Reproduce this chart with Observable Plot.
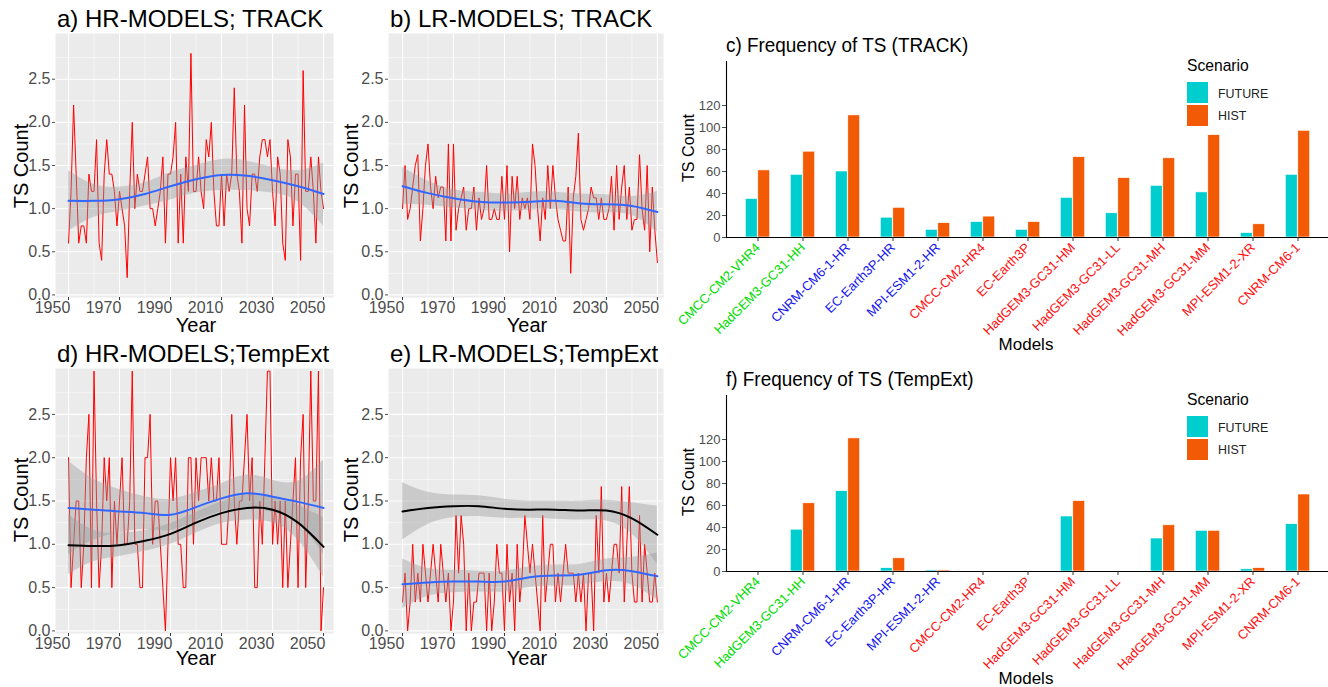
<!DOCTYPE html>
<html><head><meta charset="utf-8">
<script src="https://cdn.jsdelivr.net/npm/d3@7"></script>
<script src="https://cdn.jsdelivr.net/npm/@observablehq/plot@0.6"></script>
<style>
body{margin:0;background:#fff;font-family:"Liberation Sans",Arial,sans-serif;}
#wrap{position:relative;width:1328px;height:687px;overflow:hidden;background:#fff;}
.p{position:absolute;}
.t{position:absolute;white-space:nowrap;color:#000;line-height:1;transform-origin:0 0;}
</style></head><body><div id="wrap"></div>
<script>
// ---------- time series (yearly, 1950..2050) ----------
const startYear = 1950;
const hrTrack = [0.6,1.2,2.2,1.4,0.6,0.8,0.8,0.6,1.4,1.2,1.2,1.8,0.6,0.4,1.4,1.8,1.4,1.4,1.2,0.8,1.2,1.0,0.8,0.2,1.2,2.0,1.0,1.4,1.2,1.2,1.4,1.6,1.0,1.0,0.8,1.0,1.2,1.6,0.6,1.4,1.4,1.6,2.0,0.6,1.4,0.6,1.6,1.2,2.8,1.2,1.2,1.6,1.2,1.0,1.8,1.6,2.0,1.2,0.8,0.8,1.4,0.8,1.4,1.2,1.4,2.4,1.4,1.2,0.6,2.2,1.0,0.8,1.4,1.4,1.2,1.6,1.8,1.8,1.6,1.8,1.2,0.8,1.6,1.4,0.6,0.4,1.8,1.6,0.8,1.4,1.4,0.4,2.6,1.2,1.2,1.6,1.2,0.6,1.6,1.2,1.0];
const lrTrack = [1.0,1.5,0.875,1.0,1.25,1.5,1.625,0.625,1.0,1.5,1.75,1.25,1.0,1.375,1.125,1.25,1.25,0.625,1.75,0.625,1.75,0.75,1.0,1.125,1.25,0.75,1.0,1.0,1.25,0.75,1.125,0.875,1.0,1.5,0.875,0.875,1.0,0.875,0.875,1.375,0.875,1.5,0.5,1.375,1.0,1.375,0.875,1.125,1.0,1.125,0.875,1.75,1.5,1.0,0.625,1.125,0.875,1.5,1.0,1.5,1.125,0.875,0.75,0.625,0.625,1.25,0.25,1.125,1.375,1.875,0.875,0.75,0.875,1.0,1.25,1.125,1.125,0.875,1.125,0.875,0.875,1.0,1.375,0.75,1.5,0.875,1.25,1.5,0.875,1.25,0.75,0.875,0.875,1.625,1.0,0.75,1.5,0.5,1.25,0.75,0.375];
const hrTempExt = [2.0,0.5,1.0,1.5,1.5,0.5,1.0,2.0,2.5,0.5,3.0,1.5,0.5,1.0,2.0,1.5,2.0,0.5,1.5,1.0,1.5,2.0,1.0,1.0,1.5,3.0,1.0,1.0,0.5,0.5,2.0,2.0,2.5,1.0,1.5,1.5,1.0,0.5,0.0,1.0,2.0,1.5,2.0,1.0,1.0,0.5,0.5,2.0,2.0,1.0,2.0,1.5,2.0,2.0,2.0,1.5,2.0,1.5,1.5,2.0,1.0,1.0,1.0,1.5,2.5,1.5,1.0,1.5,1.5,2.0,2.5,1.5,2.0,0.5,0.5,1.5,1.0,2.0,3.0,3.0,1.0,1.5,1.0,1.5,0.5,1.5,0.5,1.0,1.5,2.0,0.5,2.0,2.5,0.5,1.5,3.0,1.5,1.5,3.0,0.0,0.5];
const lrTempExt = [0.333,0.667,0.0,0.333,1.0,0.333,0.667,0.333,1.0,0.667,0.333,0.667,1.0,0.667,0.333,1.0,0.667,0.333,0.667,0.0,0.333,1.333,0.667,1.333,1.0,0.0,0.667,0.0,0.333,0.333,0.667,0.667,0.667,0.0,0.667,0.0,0.333,1.0,0.667,0.667,0.0,1.0,0.333,0.667,0.0,1.0,0.333,0.667,1.333,1.0,0.667,1.0,0.667,0.333,0.0,1.333,0.333,0.667,1.0,1.0,0.333,0.667,0.333,0.667,1.0,0.667,0.667,0.667,0.333,0.667,0.333,0.667,0.0,0.667,0.667,0.0,1.333,0.667,1.667,0.333,0.667,0.333,0.667,1.0,1.0,0.667,1.667,0.333,1.0,1.667,0.667,0.333,0.333,1.333,0.333,1.0,0.667,0.333,0.333,0.667,0.333];

// ---------- smoothed fits (read at these years) ----------
const smoothYears = [1950,1960,1970,1980,1990,2000,2010,2020,2030,2040,2050];
const aFit  = [1.09,1.09,1.11,1.17,1.26,1.34,1.39,1.38,1.33,1.26,1.17];
const aLo   = [0.74,0.90,0.97,1.03,1.10,1.18,1.21,1.21,1.18,1.08,0.80];
const aHi   = [1.44,1.28,1.25,1.30,1.42,1.50,1.57,1.55,1.48,1.44,1.53];
const bFit  = [1.26,1.18,1.12,1.08,1.07,1.08,1.09,1.06,1.05,1.03,0.96];
const bLo   = [1.05,1.04,1.01,0.98,0.97,0.98,0.99,0.96,0.95,0.92,0.73];
const bHi   = [1.48,1.32,1.22,1.19,1.17,1.19,1.19,1.17,1.16,1.14,1.20];
const dBlueFit  = [1.42,1.40,1.38,1.36,1.34,1.43,1.53,1.59,1.55,1.49,1.42];
const dBlueLo   = [0.88,1.05,1.13,1.17,1.16,1.27,1.38,1.42,1.37,1.25,0.88];
const dBlueHi   = [1.96,1.75,1.63,1.55,1.52,1.60,1.70,1.80,1.74,1.73,1.97];
const dBlackFit = [0.99,0.98,0.99,1.04,1.12,1.25,1.36,1.42,1.40,1.25,0.97];
const dBlackLo  = [0.65,0.80,0.86,0.92,1.00,1.13,1.24,1.28,1.25,1.05,0.62];
const dBlackHi  = [1.34,1.16,1.13,1.16,1.24,1.37,1.49,1.57,1.55,1.45,1.31];
const eBlueFit  = [0.54,0.56,0.57,0.57,0.57,0.62,0.64,0.65,0.70,0.69,0.63];
const eBlueLo   = [0.26,0.40,0.44,0.45,0.45,0.50,0.52,0.53,0.57,0.53,0.36];
const eBlueHi   = [0.83,0.72,0.70,0.69,0.69,0.74,0.76,0.77,0.83,0.85,0.90];
const eBlackFit = [1.38,1.42,1.44,1.44,1.41,1.40,1.40,1.39,1.39,1.30,1.11];
const eBlackLo  = [1.05,1.23,1.31,1.32,1.30,1.30,1.29,1.28,1.27,1.12,0.77];
const eBlackHi  = [1.71,1.60,1.57,1.56,1.52,1.50,1.50,1.50,1.51,1.48,1.44];

const yMajor = [0,0.5,1,1.5,2,2.5];
const yMinor = [0.25,0.75,1.25,1.75,2.25,2.75];
const xMajor = [1950,1970,1990,2010,2030,2050];
const xMinor = [1960,1980,2000,2020,2040];

// ---------- bar charts ----------
const models = ["CMCC-CM2-VHR4","HadGEM3-GC31-HH","CNRM-CM6-1-HR","EC-Earth3P-HR","MPI-ESM1-2-HR","CMCC-CM2-HR4","EC-Earth3P","HadGEM3-GC31-HM","HadGEM3-GC31-LL","HadGEM3-GC31-MH","HadGEM3-GC31-MM","MPI-ESM1-2-XR","CNRM-CM6-1"];
const modelGroup = ["VHR","VHR","HR","HR","HR","LR","LR","LR","LR","LR","LR","LR","LR"];
const trackFuture = [35,57,60,18,7,14,7,36,22,47,41,4,57];
const trackHist   = [61,78,111,27,13,19,14,73,54,72,93,12,97];
const tempFuture  = [0,38,73,3,1,0,0,50,0,30,37,2,43];
const tempHist    = [0,62,121,12,1,0,0,64,0,42,37,3,70];
const barTicks = [0,20,40,60,80,100,120];
const scenarios = ["FUTURE","HIST"];

const groupColor = {VHR:"#00DD00", HR:"#1515EE", LR:"#FF1010"};
const scenColor = {FUTURE:"#00CDCD", HIST:"#F25A05"};
const FONT = "'Liberation Sans', Arial, sans-serif";
const wrap = document.getElementById("wrap");

function place(node, left, top) {
  node.classList.add("p");
  node.style.left = left + "px"; node.style.top = top + "px";
  wrap.appendChild(node);
}
function label(text, x, baseline, size, opt = {}) {
  const d = document.createElement("div");
  d.className = "t";
  d.textContent = text;
  d.style.fontSize = size + "px";
  d.style.color = opt.color || "#000";
  const sx = opt.scaleX || 1;
  if (opt.rotate) {
    d.style.left = x + "px"; d.style.top = baseline + "px";
    d.style.transformOrigin = "50% 50%";
    d.style.transform = `translate(-50%,-50%) rotate(-90deg) scaleX(${sx})`;
  } else {
    d.style.left = x + "px";
    d.style.top = (baseline - 0.8465 * size) + "px";
    if (opt.anchor === "middle") d.style.transform = `translateX(-50%)`;
    else if (sx !== 1) d.style.transform = `scaleX(${sx})`;
  }
  wrap.appendChild(d);
}

function linePanel(p) {
  const data = p.series.map((v, i) => ({year: startYear + i, v}));
  const marks = [
    Plot.frame({fill: "#EBEBEB", stroke: null}),
    Plot.gridY(yMinor, {stroke: "#fff", strokeOpacity: 1, strokeWidth: 0.55}),
    Plot.gridX(xMinor, {stroke: "#fff", strokeOpacity: 1, strokeWidth: 0.55}),
    Plot.gridY(yMajor, {stroke: "#fff", strokeOpacity: 1, strokeWidth: 1.1}),
    Plot.gridX(xMajor, {stroke: "#fff", strokeOpacity: 1, strokeWidth: 1.1}),
    Plot.line(data, {x: "year", y: "v", stroke: "#FF0000", strokeWidth: 1, clip: true})
  ];
  const sm = p.smooths.map(s => ({color: s.color, rows: smoothYears.map((y, i) => ({year: y, fit: s.fit[i], lo: s.lo[i], hi: s.hi[i]}))}));
  for (const s of sm) marks.push(Plot.areaY(s.rows, {x: "year", y1: "lo", y2: "hi", fill: "#999999", fillOpacity: 0.4, curve: "natural"}));
  for (const s of sm) marks.push(Plot.line(s.rows, {x: "year", y: "fit", stroke: s.color, strokeWidth: 2, curve: "natural"}));
  marks.push(
    Plot.axisY(yMajor, {tickFormat: d => d.toFixed(1), fontSize: 16, color: "#4d4d4d", tickSize: 3, tickPadding: 2, label: null}),
    Plot.axisX(xMajor, {tickFormat: () => "", tickSize: 3, color: "#333", label: null}),
    Plot.text(xMajor, {x: d => d, text: d => String(d), frameAnchor: "bottom", lineAnchor: "bottom", dy: 15, dx: -16, fontSize: 16, fill: "#4d4d4d"})
  );
  const svg = Plot.plot({
    width: p.w, height: p.h,
    marginLeft: p.mL, marginRight: p.mR, marginTop: p.mT, marginBottom: p.mB,
    x: {domain: p.domain},
    y: {domain: [-0.03, 3.03]},
    style: {fontFamily: FONT, background: "transparent", overflow: "visible"},
    marks
  });
  place(svg, p.left, p.top);
}

linePanel({left: 0, top: 0, w: 335, h: 340, mL: 55, mR: 2, mT: 33, mB: 43, domain: [1944.9, 2053.9],
  series: hrTrack, smooths: [{fit: aFit, lo: aLo, hi: aHi, color: "#3366FF"}]});
linePanel({left: 335, top: 0, w: 335, h: 340, mL: 53, mR: 7, mT: 33, mB: 43, domain: [1944.5, 2052.4],
  series: lrTrack, smooths: [{fit: bFit, lo: bLo, hi: bHi, color: "#3366FF"}]});
linePanel({left: 0, top: 340, w: 335, h: 347, mL: 55, mR: 2, mT: 28, mB: 54, domain: [1944.9, 2053.9],
  series: hrTempExt, smooths: [{fit: dBlackFit, lo: dBlackLo, hi: dBlackHi, color: "#000000"}, {fit: dBlueFit, lo: dBlueLo, hi: dBlueHi, color: "#3366FF"}]});
linePanel({left: 335, top: 340, w: 335, h: 347, mL: 53, mR: 7, mT: 28, mB: 54, domain: [1944.5, 2052.4],
  series: lrTempExt, smooths: [{fit: eBlackFit, lo: eBlackLo, hi: eBlackHi, color: "#000000"}, {fit: eBlueFit, lo: eBlueLo, hi: eBlueHi, color: "#3366FF"}]});

// texts of line panels
label("a) HR-MODELS; TRACK", 57, 27, 24);
label("b) LR-MODELS; TRACK", 390, 27, 24);
label("d) HR-MODELS;TempExt", 57, 362, 24);
label("e) LR-MODELS;TempExt", 390, 362, 24);
for (const [x, y] of [[21,166],[351,166],[21,500],[351,500]]) label("TS Count", x, y, 20, {rotate: true});
for (const [x, y] of [[196,332],[527,332],[196,665],[527,665]]) label("Year", x, y, 20, {anchor: "middle"});

function barPanel(p) {
  const rows = models.map((m, i) => ({model: m, group: modelGroup[i], future: p.future[i], hist: p.hist[i]}));
  const lab = Object.fromEntries(rows.map(r => [r.model, groupColor[r.group]]));
  const svg = Plot.plot({
    width: 658, height: p.h,
    marginLeft: 56, marginRight: 0, marginTop: p.mT, marginBottom: p.mB,
    x: {domain: models, paddingInner: 0, paddingOuter: 0.1},
    y: {domain: [0, 160]},
    color: {type: "identity"},
    style: {fontFamily: FONT, background: "transparent", overflow: "visible"},
    marks: [
      Plot.barY(rows, {x: "model", y: "future", fill: scenColor.FUTURE, stroke: "#fff", strokeWidth: 0.6, insetLeft: 10.3, insetRight: 22.8}),
      Plot.barY(rows, {x: "model", y: "hist", fill: scenColor.HIST, stroke: "#fff", strokeWidth: 0.6, insetLeft: 22.8, insetRight: 10.3}),
      Plot.ruleY([0], {stroke: "#000", strokeWidth: 1.1}),
      Plot.frame({anchor: "left", stroke: "#000", strokeWidth: 1.1}),
      Plot.axisY(barTicks, {fontSize: 13, tickSize: 4, tickPadding: 2, color: "#4d4d4d", label: null}),
      Plot.axisX(models, {tickRotate: -45, fontSize: 13, tickSize: 4, tickPadding: 4, fill: d => lab[d], stroke: "#333", label: null})
    ]
  });
  place(svg, 670, p.top);
}
barPanel({top: 0, h: 345, mT: 61, mB: 108, future: trackFuture, hist: trackHist});
barPanel({top: 345, h: 342, mT: 50, mB: 116, future: tempFuture, hist: tempHist});

label("c) Frequency of TS (TRACK)", 726, 52, 21, {scaleX: 0.9});
label("f) Frequency of TS (TempExt)", 726, 386, 21, {scaleX: 0.9});
label("TS Count", 688, 148, 17, {rotate: true, scaleX: 0.95});
label("TS Count", 688, 482, 17, {rotate: true, scaleX: 0.95});
label("Models", 1026, 350, 17, {anchor: "middle"});
label("Models", 1026, 684, 17, {anchor: "middle"});

function legend(top) {
  label("Scenario", 1187, top + 4, 17, {scaleX: 0.92});
  scenarios.forEach((s, i) => {
    const b = document.createElement("div");
    b.style.cssText = `position:absolute;left:1187px;top:${top + 15 + i * 23}px;width:21px;height:21px;background:${scenColor[s]};`;
    wrap.appendChild(b);
    label(s, 1218, top + 31 + i * 22, 13.5, {color: "#222", scaleX: 0.92});
  });
}
legend(67);
legend(401);
</script></body></html>
